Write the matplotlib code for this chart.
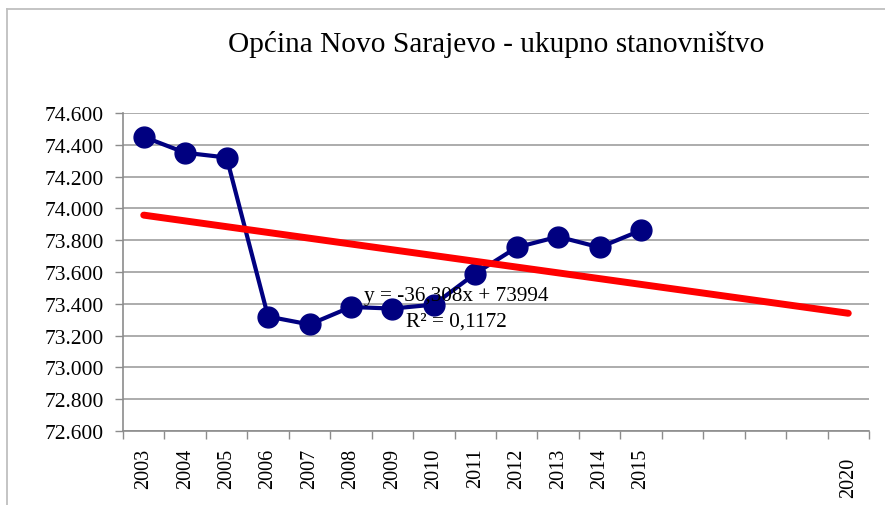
import matplotlib
matplotlib.use("Agg")
import matplotlib.pyplot as plt
from matplotlib.lines import Line2D
import matplotlib.transforms as mtransforms
import numpy as np

years = ["2003", "2004", "2005", "2006", "2007", "2008", "2009", "2010",
         "2011", "2012", "2013", "2014", "2015", "", "", "", "", "2020"]
population = [74450, 74350, 74320, 73320, 73270, 73380, 73370, 73395,
              73590, 73755, 73822, 73755, 73862]
trend_slope = -36.308
trend_intercept = 73994
r_squared = "0,1172"
y_ticks = [72600, 72800, 73000, 73200, 73400, 73600, 73800, 74000, 74200, 74400, 74600]

plt.rcParams['font.family'] = ['Liberation Serif', 'DejaVu Serif']

fig = plt.figure(figsize=(8.85, 5.06), dpi=100)
ax = fig.add_axes([123/885, 1-432/506, (869-123)/885, (432-114)/506])

n = len(years)
xs = np.arange(1, n + 1)
ax.set_xlim(0.5, n + 0.5)
ax.set_ylim(72600, 74600)

# grid
ax.set_yticks(y_ticks)
ax.set_yticklabels([f"{v:,}".replace(",", ".") for v in y_ticks], fontsize=15.5)
ax.yaxis.grid(True, color="#a6a6a6", linewidth=1.3)
ax.set_axisbelow(True)

ax.set_xticks(xs)
ax.set_xticklabels(years, rotation=90, fontsize=14.5)
ax.tick_params(axis="x", length=0, pad=12)
ax.set_xticks(np.arange(0.5, n + 1), minor=True)
ax.tick_params(axis="x", which="minor", length=6, color="#8c8c8c", width=1)
ax.tick_params(axis="y", length=6, color="#8c8c8c", width=1, pad=8)

# last label sits a bit lower in the reference
last = ax.get_xticklabels()[-1]
last.set_transform(last.get_transform() +
                   mtransforms.ScaledTranslation(0, -9/100, fig.dpi_scale_trans))

for s in ["top", "right"]:
    ax.spines[s].set_visible(False)
for s in ["left", "bottom"]:
    ax.spines[s].set_color("#8c8c8c")
    ax.spines[s].set_linewidth(1.2)

# data
xd = xs[:len(population)]
ax.plot(xd, population, color="#000080", linewidth=3, marker="o",
        markersize=15, zorder=3)

# trend
trend_y = trend_slope * xs + trend_intercept
ax.plot([xs[0], xs[-1]], [trend_y[0], trend_y[-1]], color="#ff0000",
        linewidth=5, solid_capstyle="round", zorder=4)

ax.text(0.3225, 0.425, "y = -36,308x + 73994", transform=ax.transAxes,
        fontsize=15.3, ha="left", va="center", zorder=5)
ax.text(0.3795, 0.346, "R² = " + r_squared, transform=ax.transAxes,
        fontsize=15.3, ha="left", va="center", zorder=5)

fig.text(496/885, 1-45/506, "Općina Novo Sarajevo - ukupno stanovništvo",
         ha="center", va="center", fontsize=21.2)

# chart border (top and left)
fig.add_artist(Line2D([7/885, 1], [1-10/506, 1-10/506], transform=fig.transFigure,
                      color="#bfbfbf", linewidth=1.3))
fig.add_artist(Line2D([7/885, 7/885], [0, 1-10/506], transform=fig.transFigure,
                      color="#bfbfbf", linewidth=1.3))

fig.savefig("out.png", dpi=100)
